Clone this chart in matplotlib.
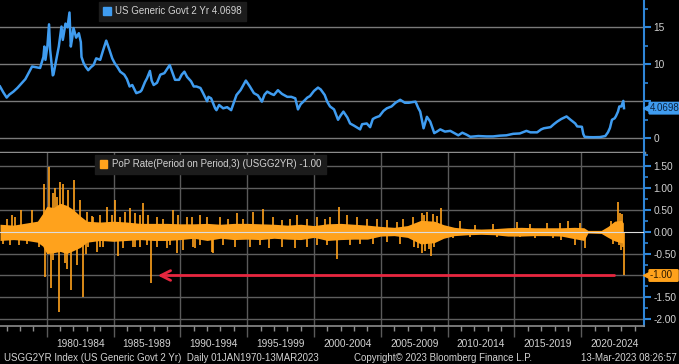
import matplotlib
matplotlib.use("Agg")
import matplotlib.pyplot as plt
from matplotlib.patches import Patch
from matplotlib.ticker import MultipleLocator

# US Generic Govt 2 Yr yield (decimal year, %)
yield_years = [
    1976.50, 1976.75, 1977.00, 1977.20, 1977.50, 1977.80, 1978.00, 1978.40, 1978.90, 1979.20,
    1979.50, 1979.75, 1979.82, 1979.90, 1980.05, 1980.17, 1980.25, 1980.45, 1980.50, 1980.70,
    1980.90, 1981.05, 1981.10, 1981.20, 1981.40, 1981.55, 1981.65, 1981.70, 1981.80, 1981.90,
    1982.00, 1982.20, 1982.40, 1982.55, 1982.60, 1982.75, 1982.90, 1983.10, 1983.30, 1983.50,
    1983.70, 1984.00, 1984.20, 1984.45, 1984.70, 1984.90, 1985.10, 1985.30, 1985.50, 1985.80,
    1986.00, 1986.20, 1986.40, 1986.70, 1987.00, 1987.10, 1987.35, 1987.50, 1987.72, 1987.85,
    1988.00, 1988.25, 1988.50, 1988.80, 1989.20, 1989.40, 1989.60, 1989.90, 1990.10, 1990.30,
    1990.50, 1990.80, 1991.00, 1991.20, 1991.50, 1991.70, 1992.00, 1992.10, 1992.30, 1992.60,
    1992.70, 1992.90, 1993.20, 1993.50, 1993.80, 1994.20, 1994.50, 1994.90, 1995.20, 1995.50,
    1995.80, 1996.10, 1996.30, 1996.50, 1996.80, 1997.00, 1997.30, 1997.60, 1998.00, 1998.30,
    1998.60, 1998.80, 1999.00, 1999.20, 1999.50, 1999.70, 2000.00, 2000.30, 2000.50, 2000.80,
    2001.00, 2001.20, 2001.50, 2001.80, 2002.00, 2002.20, 2002.50, 2002.70, 2003.00, 2003.45,
    2003.60, 2003.95, 2004.20, 2004.40, 2004.60, 2004.90, 2005.20, 2005.45, 2005.80, 2006.10,
    2006.45, 2006.80, 2007.10, 2007.40, 2007.60, 2007.80, 2007.95, 2008.20, 2008.45, 2008.70,
    2008.90, 2009.00, 2009.20, 2009.45, 2009.80, 2010.20, 2010.50, 2010.80, 2011.10, 2011.40,
    2011.70, 2012.30, 2012.90, 2013.40, 2013.90, 2014.40, 2014.90, 2015.40, 2015.90, 2016.20,
    2016.70, 2017.00, 2017.20, 2017.70, 2017.95, 2018.20, 2018.50, 2018.90, 2019.20, 2019.55,
    2019.70, 2020.05, 2020.15, 2020.25, 2020.60, 2020.90, 2021.40, 2021.80, 2022.00, 2022.15,
    2022.30, 2022.50, 2022.60, 2022.75, 2022.85, 2023.00, 2023.10, 2023.15, 2023.20,
]
yield_values = [
    7.0, 6.2, 5.5, 5.9, 6.3, 6.8, 7.2, 8.0, 9.7, 9.6,
    9.5, 11.0, 12.4, 10.6, 12.5, 15.4, 12.0, 8.5, 8.6, 10.5,
    12.4, 14.5, 15.1, 13.3, 15.5, 15.0, 16.3, 17.0, 12.4, 13.5,
    14.9, 13.6, 14.2, 13.0, 11.0, 10.2, 9.7, 9.2, 9.6, 9.9,
    10.8, 10.6, 11.8, 13.2, 11.9, 10.8, 10.1, 9.6, 9.0, 8.6,
    8.0, 7.0, 7.2, 6.1, 6.3, 6.5, 7.6, 8.1, 9.1, 7.8,
    7.2, 7.5, 8.6, 8.8, 9.9, 8.9, 7.9, 7.9, 8.6, 9.0,
    8.3, 7.7, 7.0, 7.0, 6.8, 6.1, 5.0, 5.6, 5.4, 4.05,
    3.8, 4.5, 4.05, 4.2, 3.8, 5.85, 6.5, 7.8, 7.0, 6.1,
    5.8, 4.95, 5.9, 6.3, 6.0, 5.85, 6.5, 6.0, 5.6, 5.6,
    5.4, 3.9, 4.6, 4.95, 5.5, 5.7, 6.4, 6.85, 6.6, 5.85,
    4.9, 4.3, 3.9, 2.5, 3.1, 3.6, 2.8, 2.0, 1.7, 1.2,
    1.9, 2.0, 1.5, 2.6, 2.8, 3.0, 3.7, 4.05, 4.3, 4.8,
    5.2, 4.8, 4.8, 4.9, 4.95, 4.1, 3.6, 1.35, 2.9, 2.25,
    1.2, 0.7, 0.9, 1.2, 0.9, 1.0, 0.7, 0.4, 0.75, 0.5,
    0.2, 0.3, 0.25, 0.25, 0.35, 0.4, 0.6, 0.65, 1.0, 0.8,
    0.8, 1.2, 1.35, 1.5, 1.9, 2.25, 2.6, 2.95, 2.5, 2.0,
    1.6, 1.55, 0.6, 0.2, 0.15, 0.14, 0.16, 0.3, 0.8, 1.4,
    2.5, 2.7, 3.0, 3.6, 4.3, 4.3, 4.8, 5.05, 4.0698,
]

# PoP rate (3-period change): solid core of the dense band
pop_env_years = [
    1976.5, 1977.5, 1978.5, 1979.3, 1979.7, 1980.0, 1980.5, 1981.0, 1981.5, 1982.0,
    1982.5, 1983.0, 1984.0, 1985.0, 1986.0, 1987.0, 1988.0, 1989.0, 1990.0, 1991.0,
    1992.0, 1993.0, 1994.0, 1995.0, 1996.0, 1997.0, 1998.0, 1999.0, 2000.0, 2001.0,
    2002.0, 2003.0, 2004.0, 2005.0, 2006.0, 2007.0, 2008.0, 2009.0, 2009.7, 2010.5,
    2011.5, 2012.5, 2013.5, 2014.5, 2015.5, 2016.5, 2017.5, 2018.5, 2019.5, 2020.2,
    2020.5, 2021.5, 2022.0, 2022.5, 2023.0, 2023.15,
]
pop_env_high = [
    0.17, 0.15, 0.20, 0.24, 0.42, 0.58, 0.55, 0.65, 0.60, 0.50,
    0.36, 0.24, 0.22, 0.24, 0.22, 0.19, 0.19, 0.19, 0.18, 0.18,
    0.19, 0.17, 0.19, 0.19, 0.18, 0.17, 0.15, 0.17, 0.14, 0.18,
    0.19, 0.17, 0.15, 0.12, 0.10, 0.14, 0.26, 0.24, 0.16, 0.10,
    0.07, 0.06, 0.07, 0.09, 0.10, 0.09, 0.09, 0.09, 0.10, 0.09,
    0.03, 0.03, 0.12, 0.24, 0.26, 0.20,
]
pop_env_low = [
    -0.20, -0.18, -0.20, -0.24, -0.33, -0.50, -0.48, -0.45, -0.50, -0.43,
    -0.36, -0.24, -0.20, -0.22, -0.20, -0.18, -0.20, -0.20, -0.18, -0.15,
    -0.20, -0.15, -0.18, -0.17, -0.18, -0.15, -0.17, -0.18, -0.13, -0.20,
    -0.18, -0.17, -0.17, -0.10, -0.09, -0.13, -0.28, -0.25, -0.15, -0.09,
    -0.07, -0.06, -0.07, -0.10, -0.10, -0.09, -0.09, -0.10, -0.16, -0.20,
    -0.03, -0.04, -0.13, -0.21, -0.25, -0.26,
]

# PoP rate: individual spikes standing out from the band
spike_years = [
    1976.75, 1977.0, 1977.25, 1977.4, 1977.63, 1977.9, 1978.1, 1978.5, 1978.87, 1979.4,
    1979.82, 1979.87, 1980.17, 1980.30, 1980.45, 1980.50, 1980.62, 1980.94, 1981.00, 1981.24,
    1981.37, 1981.62, 1981.80, 1982.04, 1982.24, 1982.49, 1982.74, 1980.8, 1981.5, 1982.9,
    1983.04, 1983.11, 1983.4, 1983.49, 1983.74, 1983.99, 1984.0, 1984.24, 1984.49, 1984.86,
    1985.11, 1985.36, 1985.49, 1985.74, 1985.86, 1986.23, 1986.48, 1986.6, 1986.61, 1986.98,
    1987.0, 1987.23, 1987.48, 1987.6, 1987.78, 1988.23, 1988.25, 1988.73, 1988.98, 1989.23,
    1989.48, 1989.73, 1989.85, 1990.18, 1990.48, 1990.85, 1990.97, 1991.1, 1991.47, 1991.5,
    1991.98, 1992.35, 1992.47, 1992.97, 1993.22, 1993.59, 1994.09, 1994.22, 1994.72, 1995.22,
    1995.42, 1995.97, 1996.17, 1996.6, 1996.96, 1997.59, 1997.62, 1998.21, 1998.59, 1998.76,
    1999.46, 1999.5, 2000.21, 2000.25, 2000.83, 2000.96, 2001.21, 2001.7, 2001.88, 2002.46,
    2002.7, 2003.2, 2003.45, 2003.95, 2004.45, 2004.7, 2005.45, 2005.5, 2006.2, 2006.45,
    2006.69, 2007.44, 2007.47, 2007.8, 2008.07, 2008.10, 2008.2, 2008.3, 2008.49, 2008.6,
    2008.74, 2008.9, 2009.0, 2009.2, 2009.49, 2010.44, 2010.94, 2011.68, 2012.06, 2013.43,
    2013.68, 2015.18, 2015.43, 2016.18, 2016.55, 2017.43, 2017.92, 2018.42, 2018.45, 2019.04,
    2019.55, 2019.92, 2020.27, 2022.2, 2022.4, 2022.72, 2022.8, 2022.90, 2022.95, 2023.05,
    2023.10, 2023.20,
]
spike_values = [
    -0.27, 0.30, -0.30, 0.38, 0.34, -0.30, 0.50, -0.27, 0.49, -0.35,
    1.10, -1.03, 1.47, -1.29, -0.65, 0.88, 0.99, -1.84, 1.14, 1.10,
    -0.72, 0.95, -1.32, 1.18, -0.76, 0.72, -1.50, 0.80, -0.85, -0.50,
    0.46, -0.34, 0.35, 0.34, -0.46, 0.38, -0.36, -0.34, 0.57, 0.38,
    0.72, -0.56, 0.34, -0.38, 0.46, 0.53, -0.34, -0.35, 0.42, 0.38,
    -0.34, 0.65, -0.30, 0.38, -1.16, 0.34, -0.34, 0.30, -0.38, -0.30,
    0.49, -0.49, 0.38, -0.42, 0.34, 0.34, -0.34, -0.38, 0.38, -0.30,
    0.34, -0.46, -0.49, 0.34, -0.30, 0.30, -0.34, 0.43, 0.30, -0.34,
    0.46, -0.30, 0.51, -0.38, 0.34, 0.27, -0.34, 0.30, -0.38, 0.38,
    0.30, -0.34, 0.34, -0.30, 0.30, -0.30, 0.34, -0.63, 0.57, 0.38,
    -0.30, 0.34, -0.27, 0.30, -0.27, 0.30, 0.27, -0.23, 0.23, -0.27,
    0.30, 0.34, -0.34, -0.38, -0.49, 0.43, 0.38, -0.45, 0.46, -0.40,
    -0.56, 0.40, -0.35, 0.35, 0.53, -0.15, 0.24, -0.13, 0.15, 0.17,
    -0.13, 0.23, -0.13, 0.17, -0.15, 0.19, -0.15, 0.20, -0.19, 0.24,
    -0.30, 0.20, -0.37, 0.25, -0.28, 0.67, -0.30, 0.43, -0.42, 0.40,
    -0.35, -1.00,
]

period_labels = ["1980-1984", "1985-1989", "1990-1994", "1995-1999", "2000-2004",
                 "2005-2009", "2010-2014", "2015-2019", "2020-2024"]
period_starts = [1980, 1985, 1990, 1995, 2000, 2005, 2010, 2015, 2020]

BLUE = "#3f9cf0"
ORANGE = "#ffa21c"
AXIS_BLUE = "#2f86d8"
RED = "#e8263f"
TXT = "#d2d2d2"
FS = 7

plt.rcParams["font.family"] = "Liberation Sans"

fig = plt.figure(figsize=(6.79, 3.64), dpi=100, facecolor="black")
ax1 = fig.add_axes([0, 0.5797, 0.9485, 0.4203], facecolor="black")
ax2 = fig.add_axes([0, 0.1044, 0.9485, 0.4753], facecolor="black")

xlim = (1976.5, 2024.7)

# ---------- top panel ----------
ax1.plot(yield_years, yield_values, color=BLUE, lw=1.8, zorder=3, solid_joinstyle="round")
ax1.set_xlim(*xlim)
ax1.set_ylim(-1.99, 18.69)
for v in [0, 5, 10, 15]:
    ax1.axhline(v, color="#7a7a7a", lw=1.0, zorder=1)

# ---------- bottom panel ----------
ax2.fill_between(pop_env_years, pop_env_low, pop_env_high, color=ORANGE, lw=0, zorder=2)
ax2.vlines(spike_years, 0, spike_values, color=ORANGE, lw=1.2, zorder=2)
ax2.set_xlim(*xlim)
ax2.set_ylim(-2.153, 1.797)
for v in [1.5, 1.0, 0.5, -0.5, -1.0, -1.5, -2.0]:
    ax2.axhline(v, color="#5e5e5e", lw=1.0, zorder=1)
ax2.axhline(0, color="#dcdcdc", lw=0.8, zorder=3)
for s in period_starts:
    ax2.axvline(s, color="#5a5a5a", lw=1.0, zorder=1)

# red arrow at -1.00
ax2.annotate("", xy=(1988.1, -1.0), xytext=(2022.7, -1.0),
             arrowprops=dict(arrowstyle="->,head_length=0.7,head_width=0.35",
                             color=RED, lw=2.0), zorder=4)

# ---------- axes styling ----------
for ax in (ax1, ax2):
    ax.spines["left"].set_visible(False)
    ax.spines["top"].set_visible(False)
    ax.spines["right"].set_color(AXIS_BLUE)
    ax.spines["right"].set_linewidth(1.5)
    ax.yaxis.tick_right()
    ax.tick_params(axis="y", which="major", direction="out", length=5, width=1.5,
                   color=AXIS_BLUE, labelcolor=TXT, labelsize=FS + 0.3, pad=2)
    ax.tick_params(axis="y", which="minor", direction="out", length=3, width=1.2,
                   color=AXIS_BLUE)
    ax.set_xticks(period_starts)
    ax.set_xticklabels([])

ax1.spines["bottom"].set_color("#8c8c8c")
ax1.spines["bottom"].set_linewidth(2.5)
ax1.tick_params(axis="x", which="major", direction="out", length=4, width=1, color="#8c8c8c")
# the "5" label sits under the value tag, as in the original
ax1.set_yticks([0, 5, 10, 15])
ax1.set_yticklabels(["0", "", "10", "15"])
ax1.yaxis.set_minor_locator(MultipleLocator(2.5))

ax2.spines["bottom"].set_color("#8c8c8c")
ax2.spines["bottom"].set_linewidth(1.2)
ax2.xaxis.set_minor_locator(MultipleLocator(1))
ax2.tick_params(axis="x", which="major", direction="out", length=8, width=1, color="#5a5a5a")
ax2.tick_params(axis="x", which="minor", direction="out", length=3.5, width=1, color="#8c8c8c")
ax2.set_yticks([1.5, 1.0, 0.5, 0.0, -0.5, -1.0, -1.5, -2.0])
ax2.set_yticklabels(["1.50", "1.00", "0.50", "0.00", "-0.50", "", "-1.50", "-2.00"])
ax2.yaxis.set_minor_locator(MultipleLocator(0.25))

for lab, s in zip(period_labels, period_starts):
    ax2.text(s + 2.5, -0.105, lab, transform=ax2.get_xaxis_transform(),
             ha="center", va="center", color=TXT, fontsize=FS + 0.3)

# ---------- legends ----------
ax1.legend(handles=[Patch(color=BLUE, label="US Generic Govt 2 Yr 4.0698")],
           loc="upper left", bbox_to_anchor=(0.150, 1.0), frameon=True,
           facecolor="#1c1c1c", edgecolor="#1c1c1c", framealpha=1,
           fontsize=FS, handlelength=0.8, handleheight=0.8, handletextpad=0.45,
           borderpad=0.45, borderaxespad=0.2, labelcolor=TXT, fancybox=False)
ax2.legend(handles=[Patch(color=ORANGE, label="PoP Rate(Period on Period,3) (USGG2YR) -1.00")],
           loc="upper left", bbox_to_anchor=(0.145, 1.0), frameon=True,
           facecolor="#1c1c1c", edgecolor="#1c1c1c", framealpha=1,
           fontsize=FS, handlelength=0.8, handleheight=0.8, handletextpad=0.45,
           borderpad=0.45, borderaxespad=0.2, labelcolor=TXT, fancybox=False)

# ---------- value tags on the right axis ----------
ax1.plot([1.005], [yield_values[-1]], marker="<", ms=6, color=BLUE,
         transform=ax1.get_yaxis_transform(), clip_on=False, zorder=6)
ax1.text(1.009, yield_values[-1], "4.0698", transform=ax1.get_yaxis_transform(),
         ha="left", va="center", fontsize=FS, color="#0d2440", zorder=7,
         bbox=dict(boxstyle="round,pad=0.15", fc=BLUE, ec="none"), clip_on=False)
ax2.plot([1.005], [spike_values[-1]], marker="<", ms=6, color=ORANGE,
         transform=ax2.get_yaxis_transform(), clip_on=False, zorder=6)
ax2.text(1.009, spike_values[-1], "-1.00  ", transform=ax2.get_yaxis_transform(),
         ha="left", va="center", fontsize=FS, color="#2a1800", zorder=7,
         bbox=dict(boxstyle="round,pad=0.15", fc=ORANGE, ec="none"), clip_on=False)

# ---------- footer ----------
fig.text(0.006, 0.017, "USGG2YR Index (US Generic Govt 2 Yr)  Daily 01JAN1970-13MAR2023",
         ha="left", va="center", color=TXT, fontsize=FS)
fig.text(0.521, 0.017, "Copyright\u00a9 2023 Bloomberg Finance L.P.",
         ha="left", va="center", color=TXT, fontsize=FS)
fig.text(0.997, 0.017, "13-Mar-2023 08:26:57",
         ha="right", va="center", color=TXT, fontsize=FS)

fig.savefig("out.png", dpi=100, facecolor="black")
